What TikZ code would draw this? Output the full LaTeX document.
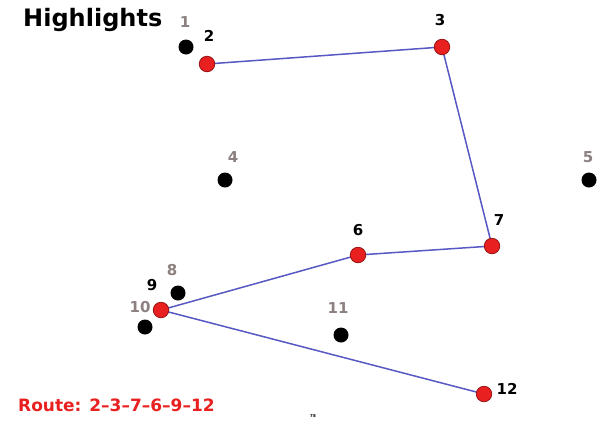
\documentclass[tikz,border=0pt]{standalone}
\usepackage{fontspec}
\setmainfont{DejaVu Sans}
\definecolor{routeblue}{RGB}{88,88,196}
\definecolor{selred}{RGB}{232,32,32}
\definecolor{selborder}{RGB}{150,20,20}
\definecolor{labgray}{RGB}{140,128,128}
\begin{document}
\begin{tikzpicture}[x=1pt,y=-1pt,
  city/.style={circle,fill=black,inner sep=0pt,minimum size=15pt},
  sel/.style={circle,fill=selred,draw=selborder,line width=0.8pt,inner sep=0pt,minimum size=15.5pt},
  glab/.style={text=labgray,font=\bfseries\fontsize{15}{15}\selectfont,inner sep=0pt},
  blab/.style={text=black,font=\bfseries\fontsize{15}{15}\selectfont,inner sep=0pt},
  route/.style={draw=routeblue,line width=1.5pt}]
\useasboundingbox (0,0) rectangle (601,424);
\fill[white] (0,0) rectangle (601,424);
\node[anchor=west,inner sep=0pt,font=\bfseries\fontsize{24}{24}\selectfont] (title) at (23,20) {Highlights};
% cities
\node[city] (c1) at (186,47) {};
\node[city] (c4) at (225,180) {};
\node[city] (c5) at (589,180) {};
\node[city] (c8) at (178,293) {};
\node[city] (c10) at (145,327) {};
\node[city] (c11) at (341,335) {};
% route
\coordinate (p2) at (207,64);
\coordinate (p3) at (442,47);
\coordinate (p7) at (492,246);
\coordinate (p6) at (358,255);
\coordinate (p9) at (161,310);
\coordinate (p12) at (484,394);
\draw[route] (p2) -- (p3) -- (p7) -- (p6) -- (p9) -- (p12);
\node[sel] (c2) at (p2) {};
\node[sel] (c3) at (p3) {};
\node[sel] (c7) at (p7) {};
\node[sel] (c6) at (p6) {};
\node[sel] (c9) at (p9) {};
\node[sel] (c12) at (p12) {};
% labels
\node[glab] (l1) at (185,22) {1};
\node[blab] (l2) at (209,36) {2};
\node[blab] (l3) at (440,20) {3};
\node[glab] (l4) at (233,157) {4};
\node[glab] (l5) at (588,157) {5};
\node[blab] (l6) at (358,230) {6};
\node[blab] (l7) at (499,220) {7};
\node[glab] (l8) at (172,270) {8};
\node[blab] (l9) at (152,285) {9};
\node[glab] (l10) at (140,307) {10};
\node[glab] (l11) at (338,308) {11};
\node[blab] (l12) at (507,389) {12};
\node[anchor=west,inner sep=0pt,text=selred,font=\bfseries\fontsize{17}{17}\selectfont] (rt) at (18,405) {Route: 2–3–7–6–9–12};
\node[inner sep=0pt,font=\bfseries\fontsize{4}{4}\selectfont] (pg) at (313,416) {78};
\end{tikzpicture}
\end{document}
